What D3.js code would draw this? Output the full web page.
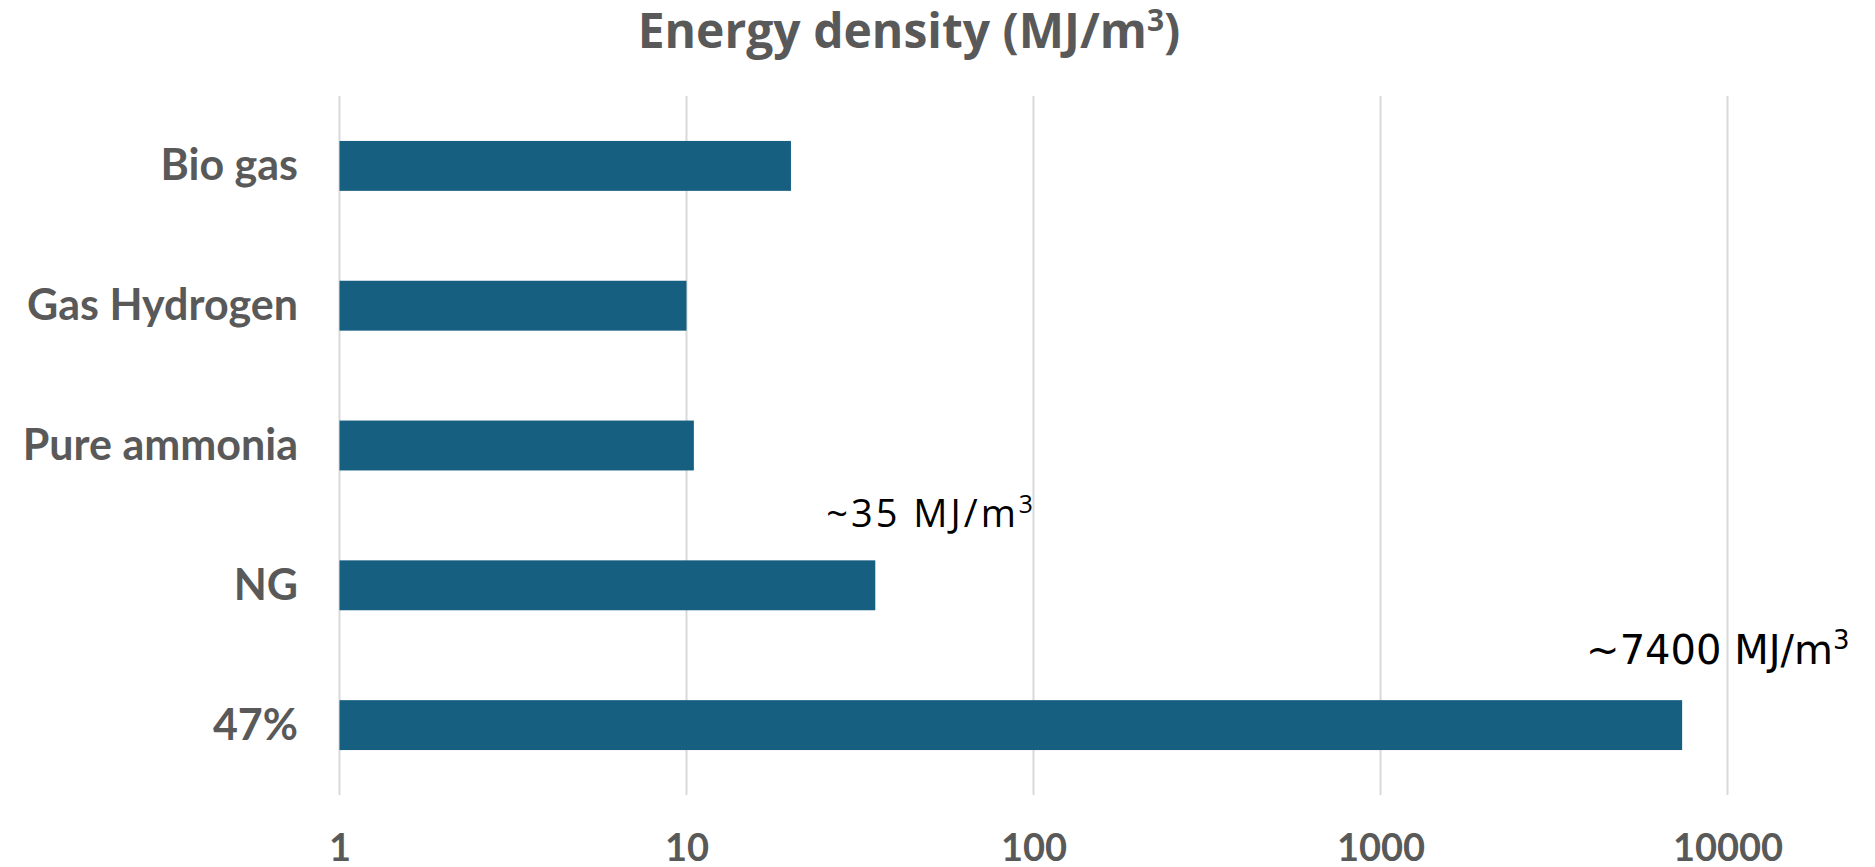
<!DOCTYPE html>
<html>
<head>
<meta charset="utf-8">
<script src="https://cdn.jsdelivr.net/npm/d3@7"></script>
<style>
  html, body { margin: 0; padding: 0; background: #fff; }
  svg { display: block; }
</style>
</head>
<body>
<svg id="chart" width="1875" height="867"></svg>
<script>
const categories = ["Bio gas", "Gas Hydrogen", "Pure ammonia", "NG", "47%"];
const values = [20, 10, 10.5, 35, 7400];
const tickValues = [1, 10, 100, 1000, 10000];
const tickLabels = ["1", "10", "100", "1000", "10000"];
const annotations = [
  { category: "NG", value: 35, text: "~35 MJ/m", sup: "3" },
  { category: "47%", value: 7400, text: "~7400 MJ/m", sup: "3" }
];

const svg = d3.select("#chart");
const plotLeft = 339.5, plotRight = 1727.5, plotTop = 96, plotBottom = 795;

const x = d3.scaleLog().domain([1, 10000]).range([plotLeft, plotRight]);
const y = d3.scaleBand().domain(categories).range([plotTop, plotBottom]).paddingInner(0.643).paddingOuter(0.3215);

// Title
const title = svg.append("text")
  .attr("x", 909).attr("y", 48)
  .attr("text-anchor", "middle")
  .attr("font-family", "'Open Sans', Lato, sans-serif")
  .attr("font-weight", "bold")
  .attr("font-size", 48)
  .attr("fill", "#595959");
title.append("tspan").text("Energy density (MJ/m");
title.append("tspan").text("3").attr("font-size", 30).attr("dy", -17);
title.append("tspan").text(")").attr("dy", 17);

// Gridlines
svg.append("g").selectAll("line")
  .data(tickValues).join("line")
  .attr("x1", d => x(d)).attr("x2", d => x(d))
  .attr("y1", plotTop).attr("y2", plotBottom)
  .attr("stroke", "#d9d9d9").attr("stroke-width", 2);

// Bars
svg.append("g").selectAll("rect")
  .data(categories.map((c, i) => ({ c, v: values[i] }))).join("rect")
  .attr("x", x(1))
  .attr("y", d => y(d.c))
  .attr("width", d => x(d.v) - x(1))
  .attr("height", y.bandwidth())
  .attr("fill", "#175F81");

// X axis
const xAxis = d3.axisBottom(x).tickValues(tickValues)
  .tickFormat((d, i) => tickLabels[i]).tickSize(0).tickPadding(0);
const gx = svg.append("g").attr("transform", `translate(0, ${plotBottom})`).call(xAxis);
gx.select(".domain").remove();
gx.selectAll("text")
  .attr("y", 66).attr("dy", 0)
  .attr("font-family", "Lato, 'Open Sans', sans-serif")
  .attr("font-weight", "bold")
  .attr("font-size", 38)
  .attr("fill", "#595959");

// Y axis
const yAxis = d3.axisLeft(y).tickSize(0).tickPadding(0);
const gy = svg.append("g").attr("transform", `translate(298, 0)`).call(yAxis);
gy.select(".domain").remove();
gy.selectAll("text")
  .attr("x", 0).attr("dy", 14.5)
  .attr("font-family", "Lato, 'Open Sans', sans-serif")
  .attr("font-weight", "bold")
  .attr("font-size", 43)
  .attr("fill", "#595959");

// Annotations
const annStyle = [
  { dx: -49, dy: -33, size: 38, spacing: 3, family: "'Open Sans', Lato, sans-serif" },
  { dx: -96, dy: -36, size: 40, spacing: 0, family: "'DejaVu Sans', Verdana, sans-serif" }
];
annotations.forEach((a, i) => {
  const s = annStyle[i];
  const t = svg.append("text")
    .attr("x", x(a.value) + s.dx)
    .attr("y", y(a.category) + s.dy)
    .attr("font-family", s.family)
    .attr("font-size", s.size)
    .attr("letter-spacing", s.spacing)
    .attr("fill", "#000");
  t.append("tspan").text(a.text);
  t.append("tspan").text(a.sup).attr("font-size", s.size * 0.65).attr("dy", -s.size * 0.38);
});
</script>
</body>
</html>
